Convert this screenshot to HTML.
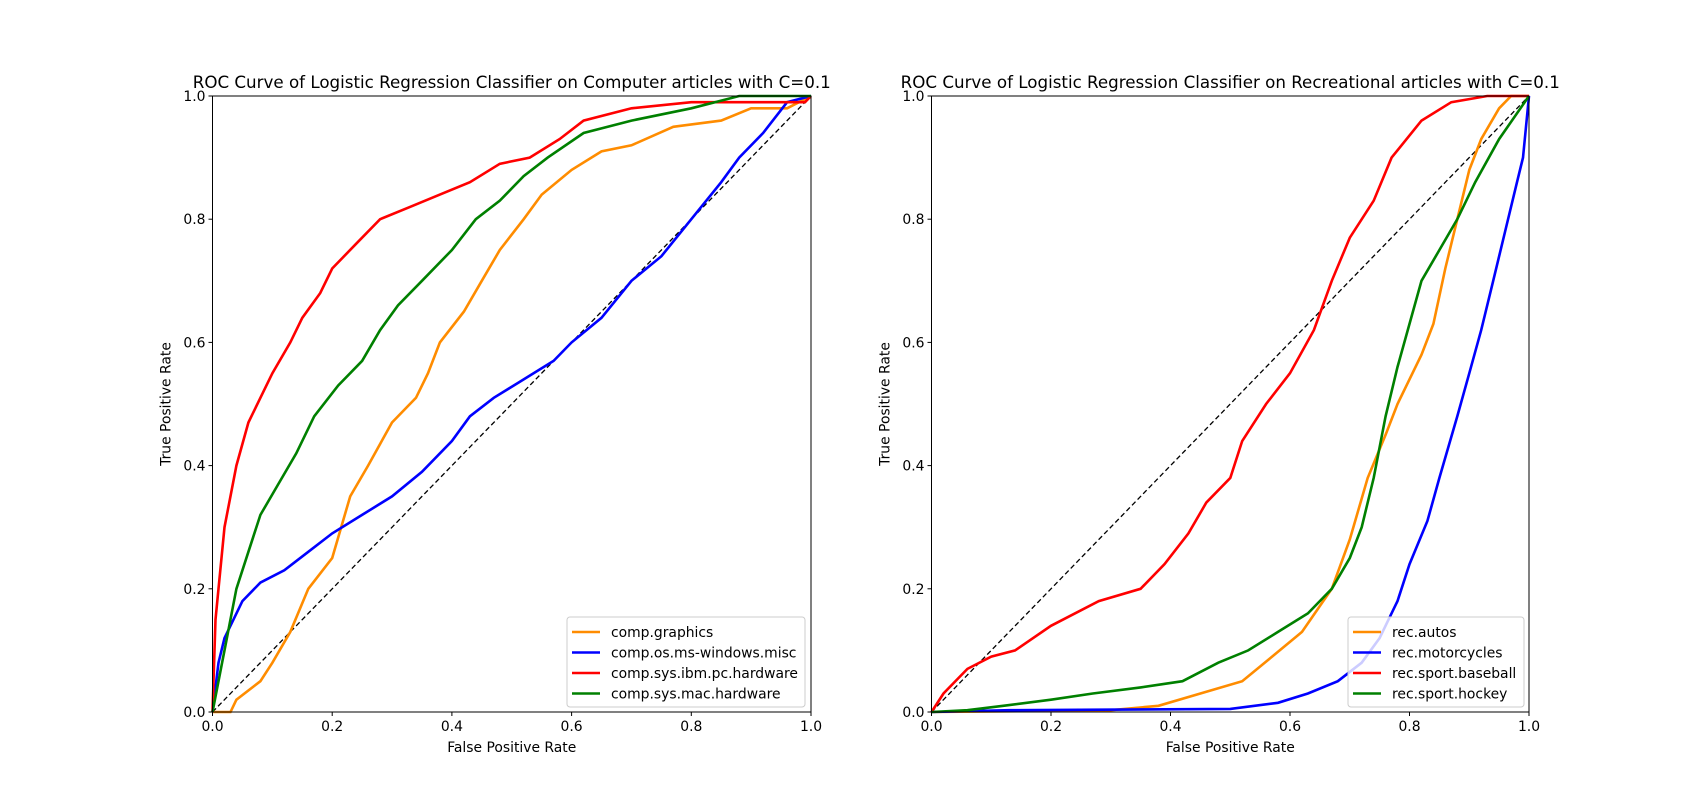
<!DOCTYPE html>
<html><head><meta charset="utf-8"><style>
html,body{margin:0;padding:0;background:#fff;}
svg{display:block;font-family:"DejaVu Sans","Liberation Sans",sans-serif;}
</style></head><body>
<svg id="fig" width="1700" height="800" viewBox="0 0 1700 800" xmlns="http://www.w3.org/2000/svg"></svg>
<script>
const ticks = [0, 0.2, 0.4, 0.6, 0.8, 1.0];
const tickLabels = ["0.0","0.2","0.4","0.6","0.8","1.0"];
const leftTitle = "ROC Curve of Logistic Regression Classifier on Computer articles with C=0.1";
const rightTitle = "ROC Curve of Logistic Regression Classifier on Recreational articles with C=0.1";
const leftNames = ["comp.graphics","comp.os.ms-windows.misc","comp.sys.ibm.pc.hardware","comp.sys.mac.hardware"];
const rightNames = ["rec.autos","rec.motorcycles","rec.sport.baseball","rec.sport.hockey"];
const colors = ["#ff8c00","#0000ff","#ff0000","#008000"];
const gfxFpr=[0,0.03,0.04,0.08,0.1,0.13,0.16,0.2,0.23,0.26,0.3,0.34,0.36,0.38,0.42,0.45,0.48,0.52,0.55,0.6,0.65,0.7,0.77,0.85,0.9,0.96,1];
const gfxTpr=[0,0,0.02,0.05,0.08,0.13,0.2,0.25,0.35,0.4,0.47,0.51,0.55,0.6,0.65,0.7,0.75,0.8,0.84,0.88,0.91,0.92,0.95,0.96,0.98,0.98,1];
const winFpr=[0,0.01,0.02,0.05,0.08,0.12,0.16,0.2,0.25,0.3,0.35,0.4,0.43,0.47,0.52,0.57,0.6,0.65,0.7,0.75,0.8,0.85,0.88,0.92,0.96,1];
const winTpr=[0,0.08,0.12,0.18,0.21,0.23,0.26,0.29,0.32,0.35,0.39,0.44,0.48,0.51,0.54,0.57,0.6,0.64,0.7,0.74,0.8,0.86,0.9,0.94,0.99,1];
const ibmFpr=[0,0.005,0.01,0.02,0.04,0.06,0.08,0.1,0.13,0.15,0.18,0.2,0.24,0.28,0.33,0.38,0.43,0.48,0.53,0.58,0.62,0.7,0.8,0.99,1];
const ibmTpr=[0,0.15,0.2,0.3,0.4,0.47,0.51,0.55,0.6,0.64,0.68,0.72,0.76,0.8,0.82,0.84,0.86,0.89,0.9,0.93,0.96,0.98,0.99,0.99,1];
const macFpr=[0,0.02,0.04,0.06,0.08,0.11,0.14,0.17,0.21,0.25,0.28,0.31,0.35,0.4,0.44,0.48,0.52,0.56,0.62,0.7,0.8,0.88,1];
const macTpr=[0,0.1,0.2,0.26,0.32,0.37,0.42,0.48,0.53,0.57,0.62,0.66,0.7,0.75,0.8,0.83,0.87,0.9,0.94,0.96,0.98,1,1];
const autFpr=[0,0.3,0.38,0.45,0.52,0.57,0.62,0.67,0.7,0.73,0.76,0.78,0.82,0.84,0.86,0.88,0.9,0.92,0.95,0.97,1];
const autTpr=[0,0.003,0.01,0.03,0.05,0.09,0.13,0.2,0.28,0.38,0.45,0.5,0.58,0.63,0.72,0.8,0.88,0.93,0.98,1,1];
const motFpr=[0,0.13,0.5,0.58,0.63,0.68,0.72,0.75,0.78,0.8,0.83,0.85,0.88,0.9,0.92,0.94,0.96,0.98,0.99,1];
const motTpr=[0,0.003,0.005,0.015,0.03,0.05,0.08,0.12,0.18,0.24,0.31,0.38,0.48,0.55,0.62,0.7,0.78,0.86,0.9,1];
const basFpr=[0,0.02,0.06,0.1,0.14,0.2,0.28,0.35,0.39,0.43,0.46,0.5,0.52,0.56,0.6,0.64,0.67,0.7,0.74,0.77,0.82,0.87,0.93,1];
const basTpr=[0,0.03,0.07,0.09,0.1,0.14,0.18,0.2,0.24,0.29,0.34,0.38,0.44,0.5,0.55,0.62,0.7,0.77,0.83,0.9,0.96,0.99,1,1];
const hocFpr=[0,0.06,0.12,0.2,0.27,0.35,0.42,0.48,0.53,0.58,0.63,0.67,0.7,0.72,0.74,0.76,0.78,0.8,0.82,0.85,0.88,0.91,0.95,1];
const hocTpr=[0,0.003,0.01,0.02,0.03,0.04,0.05,0.08,0.1,0.13,0.16,0.2,0.25,0.3,0.38,0.48,0.56,0.63,0.7,0.75,0.8,0.86,0.93,1];

const NS="http://www.w3.org/2000/svg";
const svg=document.getElementById('fig');
function mk(tag,attrs,parent){const e=document.createElementNS(NS,tag);for(const k in attrs)e.setAttribute(k,attrs[k]);(parent||svg).appendChild(e);return e;}

function panel(x0,x1,y0,y1,title,names,series,legX,legW,key){
  const sx=v=>x0+v*(x1-x0), sy=v=>y1-v*(y1-y0);
  const g=mk('g',{});
  
  
  const d=mk('line',{x1:sx(0),y1:sy(0),x2:sx(1),y2:sy(1),stroke:'#000','stroke-width':1.3,'stroke-dasharray':'5,3'},g);
  
  
  series.forEach((s,i)=>{
    const pts=s[0].map((f,j)=>sx(f).toFixed(1)+','+sy(s[1][j]).toFixed(1)).join(' ');
    const p=mk('polyline',{points:pts,fill:'none',stroke:colors[i],'stroke-width':2.6,'stroke-linejoin':'miter'},g);
    
    
  });
  const fr=mk('rect',{x:x0,y:y0,width:x1-x0,height:y1-y0,fill:'none',stroke:'#000','stroke-width':1},g);
  
  
  ticks.forEach((t,i)=>{
    mk('line',{x1:sx(t),y1:y1,x2:sx(t),y2:y1+4,stroke:'#000'},g);
    const tx=mk('text',{x:sx(t),y:y1+19,'font-size':13.9,'text-anchor':'middle'},g);
    tx.textContent=tickLabels[i];
    
    
    mk('line',{x1:x0,y1:sy(t),x2:x0-4,y2:sy(t),stroke:'#000'},g);
    const ty=mk('text',{x:x0-7,y:sy(t)+5,'font-size':13.9,'text-anchor':'end'},g);
    ty.textContent=tickLabels[i];
    
    
  });
  const tt=mk('text',{x:(x0+x1)/2,y:y0-8,'font-size':16.7,'text-anchor':'middle'},g);
  tt.textContent=title;
  
  
  const xl=mk('text',{x:(x0+x1)/2,y:y1+40,'font-size':13.9,'text-anchor':'middle'},g);
  xl.textContent='False Positive Rate';
  
  
  const yl=mk('text',{x:0,y:0,'font-size':13.9,'text-anchor':'middle',transform:`translate(${x0-42},${(y0+y1)/2}) rotate(-90)`},g);
  yl.textContent='True Positive Rate';
  
  
  const lg=mk('g',{},g);
  
  
  const ly=617;
  mk('rect',{x:legX,y:ly,width:legW,height:90,rx:3,fill:'#fff','fill-opacity':0.8,stroke:'#ccc'},lg);
  names.forEach((n,i)=>{
    const yy=ly+15+i*20.5;
    mk('line',{x1:legX+5,y1:yy,x2:legX+33,y2:yy,stroke:colors[i],'stroke-width':2.6},lg);
    const t=mk('text',{x:legX+44,y:yy+5,'font-size':13.9},lg);
    t.textContent=n;
    
    
  });
}
panel(212.5,811,96,712,leftTitle,leftNames,[[gfxFpr,gfxTpr],[winFpr,winTpr],[ibmFpr,ibmTpr],[macFpr,macTpr]],567,238,'left');
panel(931.5,1529,96,712,rightTitle,rightNames,[[autFpr,autTpr],[motFpr,motTpr],[basFpr,basTpr],[hocFpr,hocTpr]],1348,176,'right');
</script>
</body></html>
